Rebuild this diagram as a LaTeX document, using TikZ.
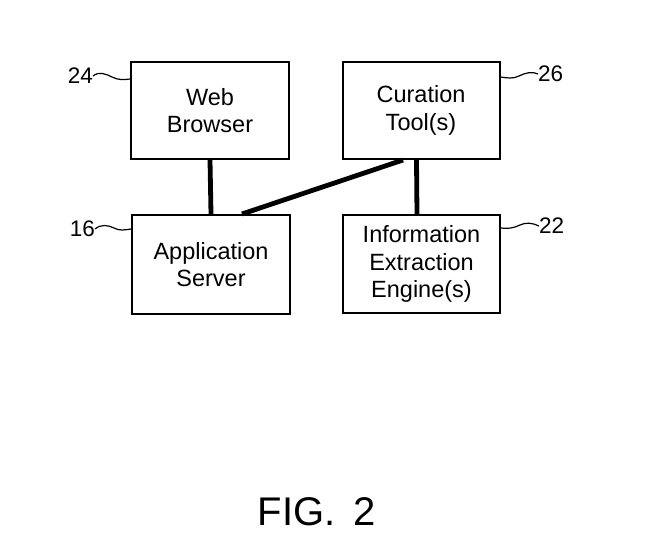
\documentclass[tikz,border=0pt]{standalone}
\usepackage{fontspec}
\setmainfont{Liberation Sans}
\begin{document}
\begin{tikzpicture}[x=1pt,y=-1pt,
  box/.style={draw, line width=2pt, inner sep=0pt, align=center,
    font=\fontsize{23.5}{27.5}\selectfont},
  link/.style={line width=4.8pt},
  num/.style={inner sep=0pt, font=\fontsize{22.5}{24}\selectfont},
  squig/.style={line width=1.2pt}]
\useasboundingbox (0,0) rectangle (662,547);
\fill[white] (0,0) rectangle (662,547);

\node[box, minimum width=158pt, minimum height=97pt] (web) at (210,110.5) {Web\\Browser};
\node[box, minimum width=157pt, minimum height=97pt] (cur) at (421,110.5) {Curation\\Tool(s)};
\node[box, minimum width=158pt, minimum height=99pt] (app) at (211,264.5) {Application\\Server};
\node[box, minimum width=157pt, minimum height=98pt] (info) at (421.5,264) {Information\\Extraction\\Engine(s)};

\draw[link] (web.south) -- (app.north);
\draw[link] ([xshift=-4.5pt]cur.south) -- ([xshift=-4.5pt]info.north);
\draw[link] ([xshift=-18pt]cur.south) -- ([xshift=31pt]app.north);

\node[num, anchor=east] (l24) at (93,76) {24};
\node[num, anchor=west] (l26) at (538,74) {26};
\node[num, anchor=east] (l16) at (95,229) {16};
\node[num, anchor=west] (l22) at (539,226) {22};

\coordinate (e24) at (web.west |- 0,79);
\coordinate (e26) at (cur.east |- 0,77);
\coordinate (e16) at (app.west |- 0,229);
\coordinate (e22) at (info.east |- 0,228);

\draw[squig] (l24.east) .. controls +(6,-5) and +(-6,-3) .. (112,77) .. controls +(6,3) and +(-7,1) .. (e24);
\draw[squig] (e26) .. controls +(7,1) and +(-6,3) .. (519,76) .. controls +(6,-3) and +(-6,-3) .. (l26.west);
\draw[squig] (l16.east) .. controls +(6,-5) and +(-6,-3) .. (114,228) .. controls +(6,3) and +(-7,1) .. (e16);
\draw[squig] (e22) .. controls +(7,1) and +(-6,3) .. (520,225) .. controls +(6,-3) and +(-6,-3) .. (l22.west);

\node[inner sep=0pt, anchor=base, font=\fontsize{40}{44}\selectfont] (fig) at (317,525) {FIG.\hspace{0.45em}2};
\end{tikzpicture}
\end{document}
